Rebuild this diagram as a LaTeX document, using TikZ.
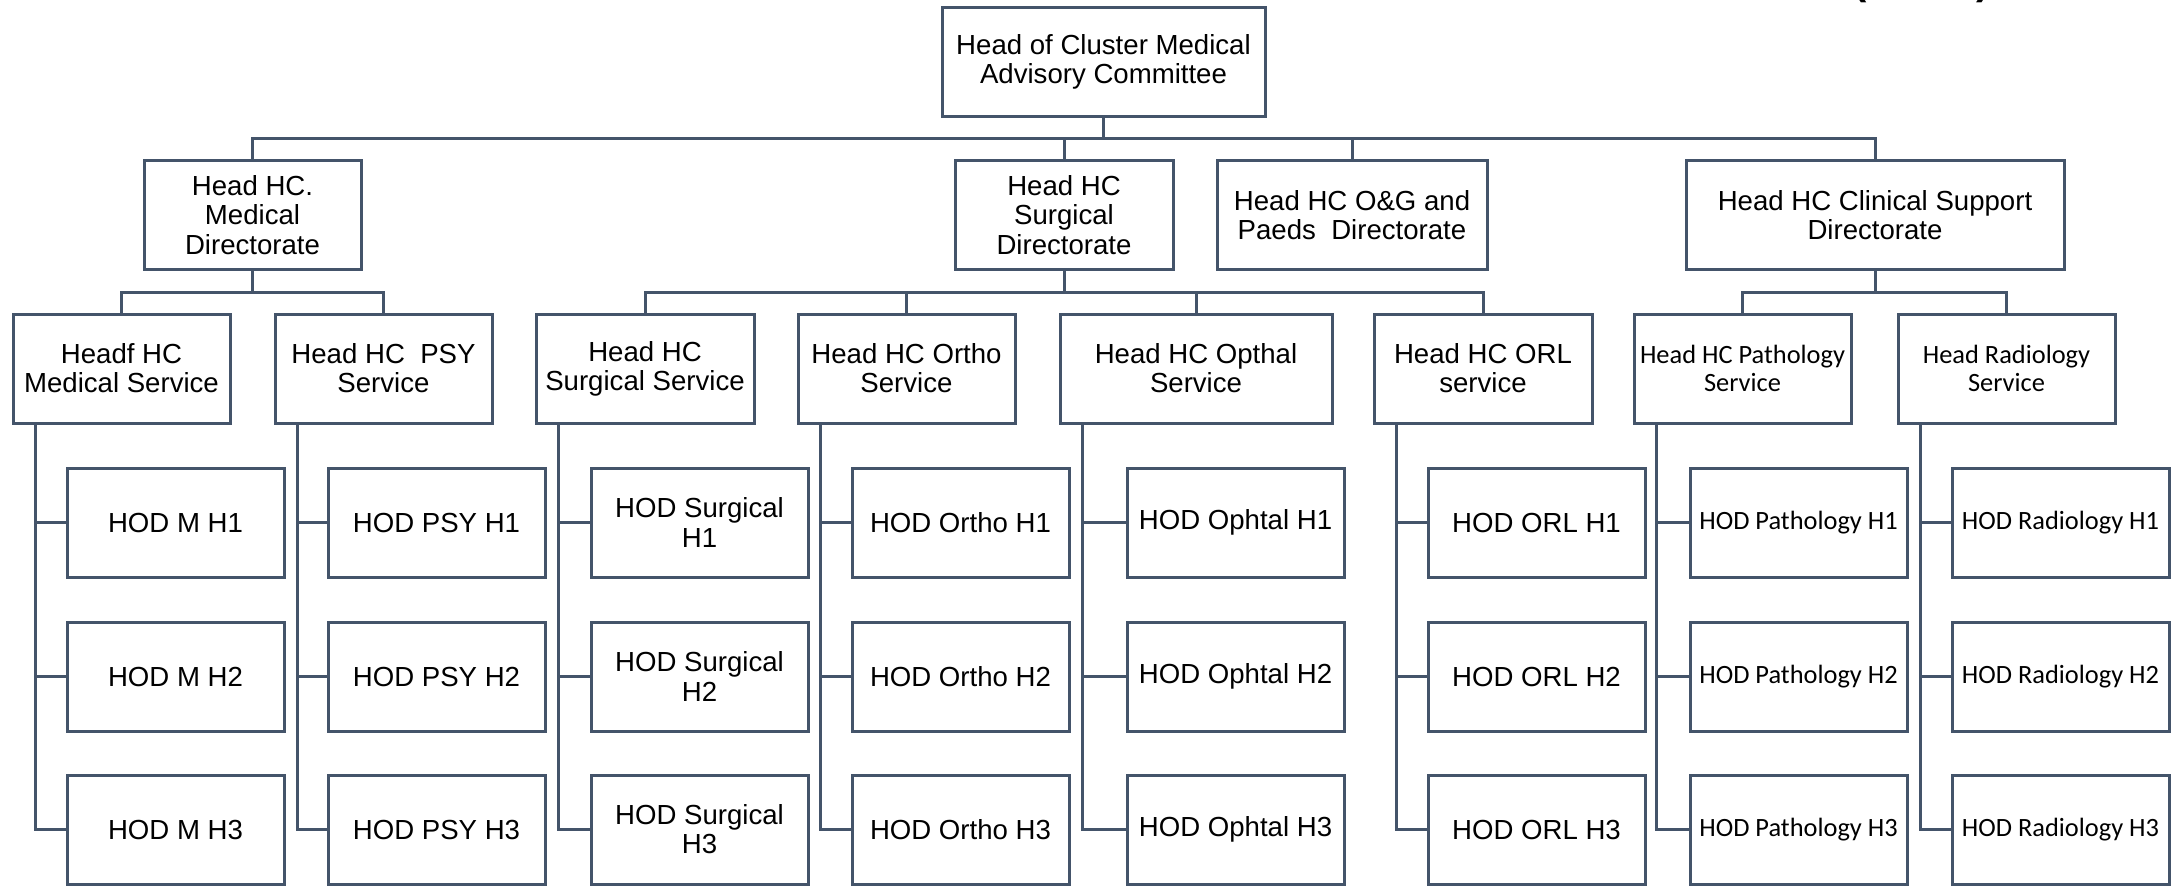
\documentclass[tikz,border=0pt]{standalone}
\usepackage{fontspec}
\setmainfont{Liberation Sans}
\newfontfamily\calib{Carlito}
\definecolor{ln}{HTML}{44546A}
\begin{document}
\begin{tikzpicture}[x=0.5pt,y=-0.5pt,
  box/.style={draw=ln, line width=1.5pt, fill=white, inner sep=0pt, outer sep=0pt,
    minimum height=54.5pt, align=center, font=\fontsize{13.8}{14.6}\selectfont},
  w/.style={minimum width=#1*0.5pt},
  cal/.style={font=\calib\fontsize{13.2}{14}\selectfont},
  conn/.style={draw=ln, line width=1.5pt},
  paren/.style={font=\bfseries\fontsize{20}{24}\selectfont, anchor=base, inner sep=0pt}]
\useasboundingbox (0,0) rectangle (2172,885);
\clip (0,0) rectangle (2172,885);
% level 0
\node[box,w=323] (top) at (1103.5,61.5) {Head of Cluster Medical\\Advisory Committee};
% level 1
\node[box,w=217] (meddir) at (252.5,215) {Head HC.\\Medical\\Directorate};
\node[box,w=218] (surgdir) at (1064,215) {Head HC\\Surgical\\Directorate};
\node[box,w=270] (og) at (1352,215) {Head HC O\&G and\\Paeds\ \ Directorate};
\node[box,w=378] (clin) at (1875,215) {Head HC Clinical Support\\Directorate};
% level 2
\node[box,w=217] (medserv) at (121.5,368.5) {Headf HC\\Medical Service};
\node[box,w=217] (psy) at (383.5,368.5) {Head HC\ \ PSY\\Service};
\node[box,w=218] (surgserv) at (645,368.5) {Head HC\\Surgical Service};
\node[box,w=217] (ortho) at (906.5,368.5) {Head HC Ortho\\Service};
\node[box,w=272] (opthal) at (1196,368.5) {Head HC Opthal\\Service};
\node[box,w=218] (orl) at (1483,368.5) {Head HC ORL\\service};
\node[box,cal,w=217] (path) at (1742.5,368.5) {Head HC Pathology\\Service};
\node[box,cal,w=217] (rad) at (2006.5,368.5) {Head Radiology\\Service};
% level 3
\foreach \r/\y in {1/522.5,2/676.5,3/829.5}{
  \node[box,w=217] (m\r) at (175.5,\y) {HOD M H\r};
  \node[box,w=217] (p\r) at (436.5,\y) {HOD PSY H\r};
  \node[box,w=217] (s\r) at (699.5,\y) {HOD Surgical\\H\r};
  \node[box,w=217] (o\r) at (960.5,\y) {HOD Ortho H\r};
  \node[box,w=217] (op\r) at (1235.5,\y) {HOD Ophtal H\r};
  \node[box,w=217] (e\r) at (1536.5,\y) {HOD ORL H\r};
  \node[box,cal,w=217] (pa\r) at (1798.5,\y) {HOD Pathology H\r};
  \node[box,cal,w=217] (ra\r) at (2060.5,\y) {HOD Radiology H\r};
}
% connectors
\coordinate (b1) at (0,138);
\coordinate (b2) at (0,292);
\foreach \c in {meddir,surgdir,og,clin}
  \draw[conn] (top.south) -- (top.south |- b1) -| (\c.north);
\foreach \p/\c in {meddir/medserv, meddir/psy, surgdir/surgserv, surgdir/ortho,
  surgdir/opthal, surgdir/orl, clin/path, clin/rad}
  \draw[conn] (\p.south) -- (\p.south |- b2) -| (\c.north);
\foreach \p/\c in {medserv/m, psy/p, surgserv/s, ortho/o, opthal/op, orl/e, path/pa, rad/ra}
  \foreach \r in {1,2,3}
    \draw[conn] ([xshift=11pt]\p.south west) |- (\c\r.west);
% partly visible title at top right
\node[paren] (pl) at (1860,-6) {(};
\node[paren] (pr) at (1983,-6) {)};
\end{tikzpicture}
\end{document}
